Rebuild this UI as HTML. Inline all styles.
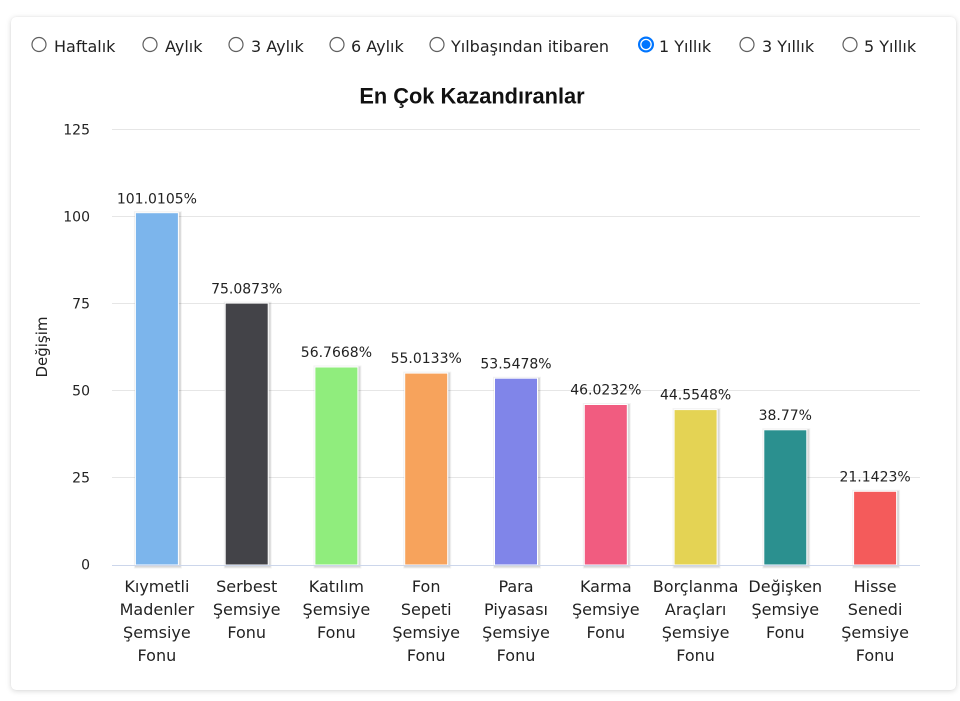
<!DOCTYPE html>
<html>
<head>
<meta charset="utf-8">
<style>
  html, body { margin:0; padding:0; background:#ffffff; }
  body { width:960px; height:701px; position:relative; overflow:hidden; }
  .card { position:absolute; left:11px; top:17px; width:945px; height:673px; background:#fff;
          border-radius:5px; box-shadow:0 1px 6px rgba(0,0,0,0.16), 0 0 1px rgba(0,0,0,0.08); }
  svg { position:absolute; left:0; top:0; }
  text { font-family:"DejaVu Sans", "Liberation Sans", sans-serif; }
</style>
</head>
<body>
<div class="card"></div>
<svg width="960" height="701" viewBox="0 0 960 701" xmlns="http://www.w3.org/2000/svg">
  <!-- radio buttons -->
  <g fill="#fff" stroke="#5f5f5f" stroke-width="1.2">
    <circle cx="39" cy="44.5" r="7"/>
    <circle cx="150" cy="44.5" r="7"/>
    <circle cx="236" cy="44.5" r="7"/>
    <circle cx="337" cy="44.5" r="7"/>
    <circle cx="437" cy="44.5" r="7"/>
    <circle cx="747" cy="44.5" r="7"/>
    <circle cx="850" cy="44.5" r="7"/>
  </g>
  <circle cx="646" cy="44.5" r="8" fill="#0075ff"/>
  <circle cx="646" cy="44.5" r="5.8" fill="#fff"/>
  <circle cx="646" cy="44.5" r="4.5" fill="#0075ff"/>
  <g font-size="16" fill="#222">
    <text x="54" y="52">Haftalık</text>
    <text x="165" y="52">Aylık</text>
    <text x="251" y="52">3 Aylık</text>
    <text x="351" y="52">6 Aylık</text>
    <text x="451" y="52">Yılbaşından itibaren</text>
    <text x="659" y="52">1 Yıllık</text>
    <text x="762" y="52">3 Yıllık</text>
    <text x="864" y="52">5 Yıllık</text>
  </g>

  <!-- title -->
  <text x="472" y="103.5" text-anchor="middle" font-size="21.8" font-weight="bold" fill="#111" style="font-family:'Liberation Sans', Arial, sans-serif">En Çok Kazandıranlar</text>

  <!-- gridlines -->
  <g stroke="#e6e6e6" stroke-width="1">
    <line x1="112" y1="129.5" x2="920" y2="129.5"/>
    <line x1="112" y1="216.5" x2="920" y2="216.5"/>
    <line x1="112" y1="303.5" x2="920" y2="303.5"/>
    <line x1="112" y1="390.5" x2="920" y2="390.5"/>
    <line x1="112" y1="477.5" x2="920" y2="477.5"/>
  </g>

  <!-- y tick labels -->
  <g font-size="14" fill="#222" text-anchor="end">
    <text x="90" y="134.5">125</text>
    <text x="90" y="221.5">100</text>
    <text x="90" y="308.5">75</text>
    <text x="90" y="395.5">50</text>
    <text x="90" y="482.5">25</text>
    <text x="90" y="569.5">0</text>
  </g>

  <!-- axis title -->
  <text transform="translate(47,347) rotate(-90)" text-anchor="middle" font-size="15" fill="#222">Değişim</text>

  <!-- bar shadows -->
  <g fill="none" stroke="#000" transform="translate(1,1)">
    <g stroke-opacity="0.05" stroke-width="5">
      <rect x="135.4" y="212.7" width="43" height="352.3"/>
      <rect x="225.2" y="303.1" width="43" height="261.9"/>
      <rect x="314.9" y="367.0" width="43" height="198"/>
      <rect x="404.7" y="373.1" width="43" height="191.9"/>
      <rect x="494.5" y="378.2" width="43" height="186.8"/>
      <rect x="584.3" y="404.5" width="43" height="160.5"/>
      <rect x="674.1" y="409.6" width="43" height="155.4"/>
      <rect x="763.8" y="429.8" width="43" height="135.2"/>
      <rect x="853.6" y="491.3" width="43" height="73.7"/>
    </g>
    <g stroke-opacity="0.1" stroke-width="3">
      <rect x="135.4" y="212.7" width="43" height="352.3"/>
      <rect x="225.2" y="303.1" width="43" height="261.9"/>
      <rect x="314.9" y="367.0" width="43" height="198"/>
      <rect x="404.7" y="373.1" width="43" height="191.9"/>
      <rect x="494.5" y="378.2" width="43" height="186.8"/>
      <rect x="584.3" y="404.5" width="43" height="160.5"/>
      <rect x="674.1" y="409.6" width="43" height="155.4"/>
      <rect x="763.8" y="429.8" width="43" height="135.2"/>
      <rect x="853.6" y="491.3" width="43" height="73.7"/>
    </g>
  </g>

  <!-- bars -->
  <g stroke="#fff" stroke-width="1">
    <rect x="135.4" y="212.7" width="43" height="352.3" fill="#7cb5ec"/>
    <rect x="225.2" y="303.1" width="43" height="261.9" fill="#434348"/>
    <rect x="314.9" y="367.0" width="43" height="198" fill="#90ed7d"/>
    <rect x="404.7" y="373.1" width="43" height="191.9" fill="#f7a35c"/>
    <rect x="494.5" y="378.2" width="43" height="186.8" fill="#8085e9"/>
    <rect x="584.3" y="404.5" width="43" height="160.5" fill="#f15c80"/>
    <rect x="674.1" y="409.6" width="43" height="155.4" fill="#e4d354"/>
    <rect x="763.8" y="429.8" width="43" height="135.2" fill="#2b908f"/>
    <rect x="853.6" y="491.3" width="43" height="73.7" fill="#f45b5b"/>
  </g>

  <!-- x axis line -->
  <line x1="112" y1="565.5" x2="920" y2="565.5" stroke="#ccd6eb" stroke-width="1"/>

  <!-- data labels -->
  <g font-size="14" fill="#222" text-anchor="middle">
    <text x="156.9" y="203.5">101.0105%</text>
    <text x="246.7" y="293.5">75.0873%</text>
    <text x="336.4" y="357">56.7668%</text>
    <text x="426.2" y="363">55.0133%</text>
    <text x="516" y="368.5">53.5478%</text>
    <text x="605.8" y="394.5">46.0232%</text>
    <text x="695.6" y="399.5">44.5548%</text>
    <text x="785.3" y="420">38.77%</text>
    <text x="875.1" y="481.5">21.1423%</text>
  </g>

  <!-- category labels -->
  <g font-size="16" fill="#222" text-anchor="middle">
    <text x="156.9" y="592">Kıymetli</text>
    <text x="156.9" y="615">Madenler</text>
    <text x="156.9" y="638">Şemsiye</text>
    <text x="156.9" y="661">Fonu</text>

    <text x="246.7" y="592">Serbest</text>
    <text x="246.7" y="615">Şemsiye</text>
    <text x="246.7" y="638">Fonu</text>

    <text x="336.4" y="592">Katılım</text>
    <text x="336.4" y="615">Şemsiye</text>
    <text x="336.4" y="638">Fonu</text>

    <text x="426.2" y="592">Fon</text>
    <text x="426.2" y="615">Sepeti</text>
    <text x="426.2" y="638">Şemsiye</text>
    <text x="426.2" y="661">Fonu</text>

    <text x="516" y="592">Para</text>
    <text x="516" y="615">Piyasası</text>
    <text x="516" y="638">Şemsiye</text>
    <text x="516" y="661">Fonu</text>

    <text x="605.8" y="592">Karma</text>
    <text x="605.8" y="615">Şemsiye</text>
    <text x="605.8" y="638">Fonu</text>

    <text x="695.6" y="592">Borçlanma</text>
    <text x="695.6" y="615">Araçları</text>
    <text x="695.6" y="638">Şemsiye</text>
    <text x="695.6" y="661">Fonu</text>

    <text x="785.3" y="592">Değişken</text>
    <text x="785.3" y="615">Şemsiye</text>
    <text x="785.3" y="638">Fonu</text>

    <text x="875.1" y="592">Hisse</text>
    <text x="875.1" y="615">Senedi</text>
    <text x="875.1" y="638">Şemsiye</text>
    <text x="875.1" y="661">Fonu</text>
  </g>
</svg>
</body>
</html>
